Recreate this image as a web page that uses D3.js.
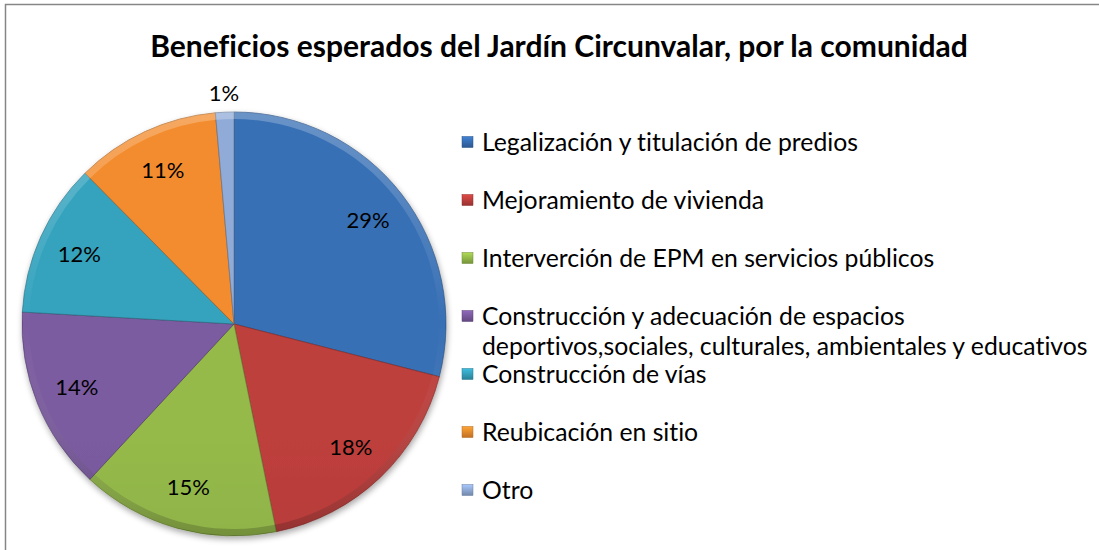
<!doctype html>
<html lang="es">
<head>
<meta charset="utf-8">
<script src="https://d3js.org/d3.v7.min.js"></script>
<style>
body { margin: 0; background: #fff; }
text { font-family: Lato, "Open Sans", sans-serif; fill: #000; font-variant-ligatures: none; font-feature-settings: "liga" 0, "clig" 0; }
</style>
</head>
<body>
<script>
// categorias y porcentajes
var categories = [
  "Legalización y titulación de predios",
  "Mejoramiento de vivienda",
  "Interverción de EPM en servicios públicos",
  "Construcción y adecuación de espacios deportivos,sociales, culturales, ambientales y educativos",
  "Construcción de vías",
  "Reubicación en sitio",
  "Otro"
];
var values = [29.0, 17.8, 15.1, 14.0, 11.7, 11.0, 1.4];
var legendLines = [
  ["Legalización y titulación de predios"],
  ["Mejoramiento de vivienda"],
  ["Interverción de EPM en servicios públicos"],
  ["Construcción y adecuación de espacios", "deportivos,sociales, culturales, ambientales y educativos"],
  ["Construcción de vías"],
  ["Reubicación en sitio"],
  ["Otro"]
];
var colors = ["#366DB2", "#BB3E3B", "#92B749", "#79599D", "#34A0BB", "#EF8A2D", "#8DA8D4"];
var title = "Beneficios esperados del Jardín Circunvalar, por la comunidad";

var W = 1099, H = 550;
var cx = 234, cy = 324, r = 212;

var svg = d3.select("body").append("svg")
  .attr("width", W).attr("height", H);

// chart border (runs off the right and bottom)
svg.append("rect")
  .attr("x", 5.5).attr("y", 4.5)
  .attr("width", W + 10).attr("height", H + 10)
  .attr("fill", "#fff")
  .attr("stroke", "#868686").attr("stroke-width", 1.5);

var defs = svg.append("defs");
colors.forEach(function(c, i) {
  var g = defs.append("linearGradient")
    .attr("id", "grad" + i)
    .attr("gradientUnits", "userSpaceOnUse")
    .attr("x1", 0).attr("y1", cy - r).attr("x2", 0).attr("y2", cy + r);
  g.append("stop").attr("offset", "0%").attr("stop-color", d3.color(c).brighter(0.05));
  g.append("stop").attr("offset", "100%").attr("stop-color", d3.color(c).darker(0.4));
  var lg = defs.append("linearGradient")
    .attr("id", "lgrad" + i)
    .attr("x1", 0).attr("y1", 0).attr("x2", 0).attr("y2", 1);
  lg.append("stop").attr("offset", "0%").attr("stop-color", d3.color(c).brighter(0.5));
  lg.append("stop").attr("offset", "100%").attr("stop-color", d3.color(c).darker(0.6));
});
var shadow = defs.append("filter").attr("id", "shadow")
  .attr("x", "-10%").attr("y", "-10%").attr("width", "120%").attr("height", "120%");
shadow.append("feGaussianBlur").attr("in", "SourceAlpha").attr("stdDeviation", 3);
shadow.append("feOffset").attr("dx", 1).attr("dy", 3).attr("result", "off");
shadow.append("feComponentTransfer").append("feFuncA").attr("type", "linear").attr("slope", 0.35);
var merge = shadow.append("feMerge");
merge.append("feMergeNode");
merge.append("feMergeNode").attr("in", "SourceGraphic");

// title
var titleText = svg.append("text")
  .attr("x", 559).attr("y", 57)
  .attr("text-anchor", "middle")
  .style("font-weight", "bold")
  .style("font-size", "26px")
  .text(title);
var tw = titleText.node().getComputedTextLength();
titleText.style("font-size", (26 * 818 / tw) + "px");

// pie
var total = d3.sum(values);
var pie = d3.pie().sort(null).value(function(d) { return d; });
var arcs = pie(values);
var arc = d3.arc().innerRadius(0).outerRadius(r);
var rimTop = d3.arc().innerRadius(r - 7).outerRadius(r);
var labelArc = d3.arc().innerRadius(r * 0.8).outerRadius(r * 0.8);
var outArc = d3.arc().innerRadius(r * 1.09).outerRadius(r * 1.09);

var g = svg.append("g").attr("transform", "translate(" + cx + "," + cy + ")");
var slices = g.append("g").attr("filter", "url(#shadow)");
slices.selectAll("path.slice")
  .data(arcs).enter().append("path")
  .attr("class", "slice")
  .attr("d", arc)
  .attr("fill", function(d, i) { return "url(#grad" + i + ")"; })
  .attr("stroke", function(d, i) { return d3.color(colors[i]).darker(1.2); })
  .attr("stroke-width", 0.6);

// bevel on the rim: light on top, dark on bottom
var bevel = defs.append("linearGradient")
  .attr("id", "bevel")
  .attr("gradientUnits", "userSpaceOnUse")
  .attr("x1", 0).attr("y1", -r).attr("x2", 0).attr("y2", r);
bevel.append("stop").attr("offset", "0%").attr("stop-color", "#fff").attr("stop-opacity", 0.25);
bevel.append("stop").attr("offset", "50%").attr("stop-color", "#fff").attr("stop-opacity", 0);
bevel.append("stop").attr("offset", "100%").attr("stop-color", "#000").attr("stop-opacity", 0.2);
g.selectAll("path.rim")
  .data(arcs).enter().append("path")
  .attr("class", "rim")
  .attr("d", rimTop)
  .attr("fill", "url(#bevel)");

g.selectAll("text.pct")
  .data(arcs).enter().append("text")
  .attr("class", "pct")
  .attr("transform", function(d) {
    var p = (d.data / total < 0.05) ? outArc.centroid(d) : labelArc.centroid(d);
    return "translate(" + p[0] + "," + p[1] + ")";
  })
  .attr("text-anchor", "middle")
  .attr("dy", "0.35em")
  .style("font-size", "22px")
  .text(function(d) { return Math.round(d.data / total * 100) + "%"; });

// legend
var legendY = [142, 200, 258, 316, 374, 432, 490];
var legend = svg.append("g");
var items = legend.selectAll("g.item")
  .data(legendLines).enter().append("g")
  .attr("class", "item")
  .attr("transform", function(d, i) { return "translate(462," + legendY[i] + ")"; });
items.append("rect")
  .attr("x", 0).attr("y", -5.5)
  .attr("width", 11).attr("height", 11)
  .attr("fill", function(d, i) { return "url(#lgrad" + i + ")"; })
  .attr("stroke", function(d, i) { return d3.color(colors[i]).darker(0.8); })
  .attr("stroke-width", 0.5);
var legendText = items.append("text")
  .attr("x", 20)
  .style("font-size", "22px");
legendText.selectAll("tspan")
  .data(function(d) { return d; }).enter().append("tspan")
  .attr("x", 20)
  .attr("y", function(d, i) { return i * 30; })
  .attr("dy", "0.35em")
  .text(function(d) { return d; });
// size the legend font so the first entry spans as in the picture
var lw = legendText.node().getComputedTextLength();
legendText.style("font-size", (22 * 376 / lw) + "px");
</script>
</body>
</html>
